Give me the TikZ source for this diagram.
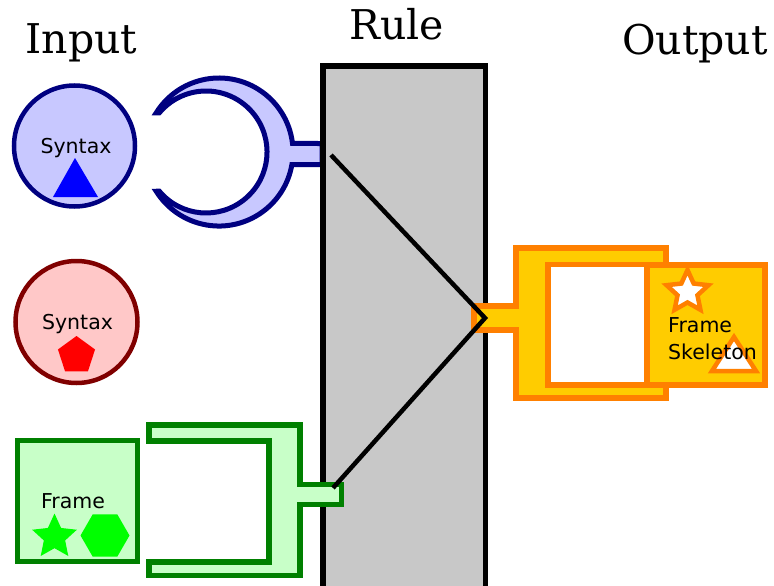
\documentclass[tikz,border=0pt]{standalone}
\usepackage{fontspec}
\setmainfont{DejaVu Serif}
\setsansfont{DejaVu Sans}
\usetikzlibrary{shapes.geometric}

\definecolor{synline}{HTML}{000080}
\definecolor{synfill}{HTML}{C8C8FF}
\definecolor{synmark}{HTML}{0000FF}
\definecolor{semline}{HTML}{800000}
\definecolor{semfill}{HTML}{FFC8C8}
\definecolor{semmark}{HTML}{FF0000}
\definecolor{frmline}{HTML}{008000}
\definecolor{frmfill}{HTML}{C8FFC8}
\definecolor{frmmark}{HTML}{00FF00}
\definecolor{outline}{HTML}{FF8000}
\definecolor{outfill}{HTML}{FFCC00}
\definecolor{rulefill}{HTML}{C8C8C8}

\begin{document}
\begin{tikzpicture}[
  x=1pt, y=-1pt,
  head/.style={font=\fontsize{41}{48}\selectfont, anchor=base, inner sep=0pt},
  lbl/.style={font=\sffamily\fontsize{20.5}{25}\selectfont, anchor=base, inner sep=0pt},
  syn/.style={draw=synline, fill=synfill, line width=4.5pt},
  sem/.style={draw=semline, fill=semfill, line width=4.5pt},
  frm/.style={draw=frmline, fill=frmfill, line width=5.5pt},
  outp/.style={draw=outline, fill=outfill, line width=5.5pt},
  starmark/.style={star, star points=5, star point ratio=2.1, inner sep=0pt}
]
\useasboundingbox (0,0) rectangle (774,586);

% column titles
\node[head] (tIn)   at (81.5,54) {Input};
\node[head] (tRule) at (396.5,40) {Rule};
\node[head] (tOut)  at (695,55) {Output};

% syntax input (blue)
\node[syn, circle, minimum size=121pt, inner sep=0pt] (syn1) at (74.5,146) {};
\node[lbl] (syn1lbl) at (76,153) {Syntax};
\fill[synmark] (75,158) -- (53,197) -- (98,197) -- cycle;

% crescent socket with its stem
\draw[syn, line width=5pt] (219,152) ++(212:74) arc[start angle=212, end angle=353.4, radius=74]
  -- (322,143.5) -- (322,164.5) -- (291.9,164.5)
  arc[start angle=9.7, end angle=148, radius=74]
  -- (159.3,191.2) arc[start angle=140, end angle=-140, radius=61] -- cycle;

% syntax input (red)
\node[sem, circle, minimum size=122pt, inner sep=0pt] (syn2) at (76.5,322) {};
\node[lbl] (syn2lbl) at (77.5,329) {Syntax};
\fill[semmark] (76.5,355.5) +(270:19.5)
  \foreach \a in {342,54,126,198} { -- +(\a:19.5) } -- cycle;

% frame input (green)
\node[frm, minimum width=120pt, minimum height=121pt, inner sep=0pt] (frame) at (77.5,501) {};
\node[lbl] (framelbl) at (73,508) {Frame};
\node[starmark, fill=frmmark, minimum size=47pt] (frStar) at (54.5,537) {};
\fill[frmmark] (105,535.5) +(0:24.5)
  \foreach \a in {60,120,...,300} { -- +(\a:24.5) } -- cycle;

% the rule
\node[draw, line width=5.5pt, fill=rulefill, minimum width=162.5pt, minimum height=534pt,
      inner sep=0pt] (rule) at (404.25,333) {};

% frame socket (green)
\draw[frm] (149,425) -- (300,425) -- (300,484.5) -- (341.5,484.5) -- (341.5,504.5)
  -- (300,504.5) -- (300,575.5) -- (149,575.5) -- (149,562) -- (269,562)
  -- (269,441) -- (149,441) -- cycle;

% output socket (orange)
\draw[outp] (516,248) -- (666,248) -- (666,264.5) -- (548,264.5) -- (548,385)
  -- (666,385) -- (666,398) -- (516,398) -- (516,330) -- (474,330)
  -- (474,306) -- (516,306) -- cycle;
\fill[white] (550.8,267.3) rectangle (645,382.2);

% frame skeleton
\node[outp, minimum width=118pt, minimum height=120pt, inner sep=0pt] (skel) at (706,325) {};
\node[starmark, draw=outline, fill=white, line width=4.5pt, minimum size=44pt] (skStar) at (687.5,292) {};
\draw[draw=outline, fill=white, line width=4.5pt] (734,337) -- (712,371) -- (756,371) -- cycle;
\node[lbl, anchor=base west] (skel1) at (668,332) {Frame};
\node[lbl, anchor=base west] (skel2) at (668,359) {Skeleton};

% wiring inside the rule
\coordinate (inSyn)   at (331,155);
\coordinate (outSkel) at (485,318);
\coordinate (inFrame) at (333,488);
\draw[line width=4.5pt] (inSyn) -- (outSkel) -- (inFrame);
\end{tikzpicture}
\end{document}
